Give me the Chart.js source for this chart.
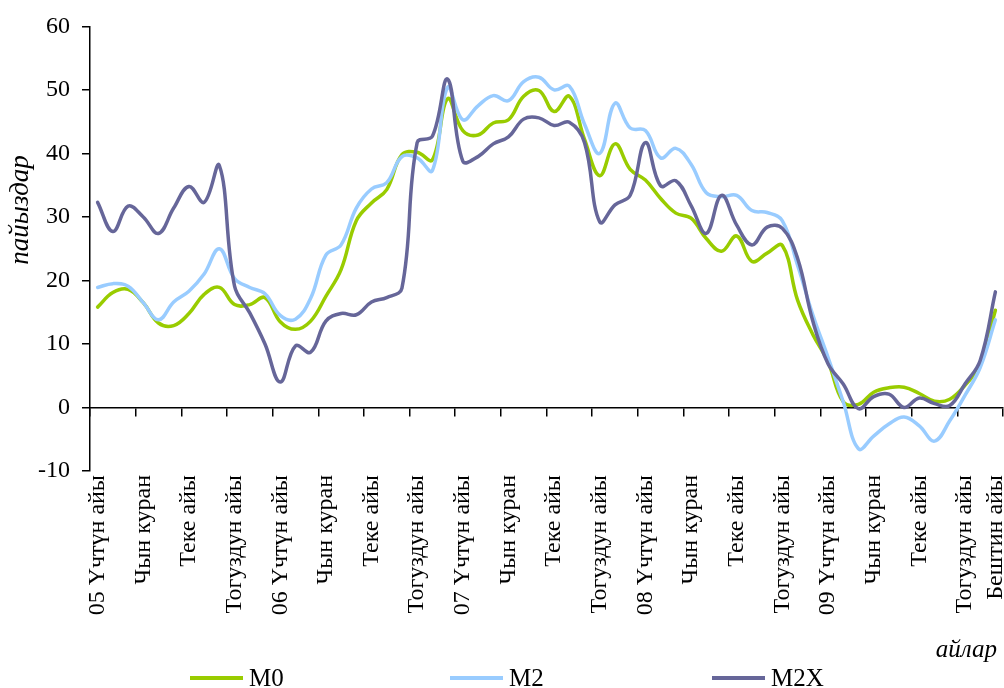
<!DOCTYPE html>
<html>
<head>
<meta charset="utf-8">
<script src="https://cdn.jsdelivr.net/npm/chart.js@4/dist/chart.umd.min.js"></script>
<style>
html,body{margin:0;padding:0;background:#fff;}
#wrap{position:relative;width:1004px;height:688px;overflow:hidden;}
#c{position:absolute;left:0;top:0;}
.leg{position:absolute;top:666px;height:24px;line-height:24px;font-family:"Liberation Serif",serif;font-size:25px;color:#000;white-space:nowrap;}
.leg i{display:inline-block;width:53px;height:4px;vertical-align:middle;margin-right:6px;position:relative;top:-2px;}
</style>
</head>
<body>
<div id="wrap">
<canvas id="c" width="1004" height="688"></canvas>
<div id="legend"></div>
</div>
<script>
// ---- categories (months, Jan 2005 .. Dec 2009) ----
const categories = [
 '05 Үчтүн айы','Бирдин айы','Жалган куран','Чын куран','Бугу','Кулжа','Теке айы','Баш оона','Аяк оона','Тогуздун айы','Жетинин айы','Бештин айы',
 '06 Үчтүн айы','Бирдин айы','Жалган куран','Чын куран','Бугу','Кулжа','Теке айы','Баш оона','Аяк оона','Тогуздун айы','Жетинин айы','Бештин айы',
 '07 Үчтүн айы','Бирдин айы','Жалган куран','Чын куран','Бугу','Кулжа','Теке айы','Баш оона','Аяк оона','Тогуздун айы','Жетинин айы','Бештин айы',
 '08 Үчтүн айы','Бирдин айы','Жалган куран','Чын куран','Бугу','Кулжа','Теке айы','Баш оона','Аяк оона','Тогуздун айы','Жетинин айы','Бештин айы',
 '09 Үчтүн айы','Бирдин айы','Жалган куран','Чын куран','Бугу','Кулжа','Теке айы','Баш оона','Аяк оона','Тогуздун айы','Жетинин айы','Бештин айы'
];
// categories whose names are printed on the axis
const labelledMonths = [0,3,6,9,12,15,18,21,24,27,30,33,36,39,42,45,48,51,54,57,59];

// ---- series ----
const seriesNames = ['M0','M2','M2X'];
const m0 = [
 15.8,18.1,18.6,16.5,13.3,12.9,14.8,17.8,18.9,16.2,16.2,17.3,
 13.5,12.3,13.6,17.5,21.7,29.4,32.2,34.3,39.8,40.2,39.0,48.6,
 43.6,42.9,44.8,45.3,49.0,49.9,46.6,49.0,42.2,36.5,41.5,37.5,
 35.8,32.9,30.6,29.8,26.6,24.6,27.0,23.0,24.3,25.5,16.9,11.5,
 7.2,0.9,0.5,2.4,3.1,3.2,2.2,1.0,1.3,3.5,6.8,15.3
];
const m2 = [
 18.9,19.5,19.1,16.5,13.8,16.6,18.3,21.0,25.0,20.3,18.9,17.9,
 14.5,13.9,17.2,24.0,25.6,31.4,34.4,35.4,39.5,39.3,37.3,50.4,
 45.3,47.5,49.1,48.3,51.3,52.0,50.0,50.6,44.6,40.0,47.9,44.0,
 43.6,39.3,40.8,38.3,33.8,33.2,33.4,31.0,30.7,29.4,22.4,14.6,
 7.9,0.9,-6.5,-4.5,-2.6,-1.5,-2.9,-5.3,-2.1,1.9,6.3,13.8
];
const m2x = [
 32.3,27.7,31.7,30.0,27.4,31.4,34.8,32.3,38.1,19.1,14.9,10.0,
 4.0,9.7,8.7,13.6,14.8,14.6,16.6,17.3,18.8,41.7,42.7,51.7,
 38.8,39.5,41.5,42.6,45.4,45.6,44.4,44.9,41.7,29.2,31.9,33.4,
 41.7,34.9,35.7,31.8,27.4,33.4,28.7,25.6,28.4,28.2,23.5,13.6,
 6.9,3.7,-0.2,1.7,2.1,0.0,1.5,0.6,0.3,3.7,7.4,18.2
];
const seriesColors = ['#99CC00','#99CCFF','#666699'];

// ---- axes ----
const yTickValues = [-10,0,10,20,30,40,50,60];
const yTitle = 'пайыздар';
const xTitle = 'айлар';

const FONT = '"Liberation Serif", "Times New Roman", serif';

const axisTitlePlugin = {
  id: 'axisTitlePlugin',
  afterDraw(chart) {
    const ctx = chart.ctx;
    ctx.save();
    ctx.fillStyle = '#000';
    ctx.font = 'italic 27px ' + FONT;
    ctx.textAlign = 'center';
    ctx.textBaseline = 'middle';
    ctx.translate(21, 210);
    ctx.rotate(-Math.PI / 2);
    ctx.fillText(yTitle, 0, 0);
    ctx.restore();
    ctx.save();
    ctx.fillStyle = '#000';
    ctx.font = 'italic 25px ' + FONT;
    ctx.textAlign = 'right';
    ctx.textBaseline = 'middle';
    ctx.fillText(xTitle, 997, 650);
    ctx.restore();
  }
};

const values = [m0, m2, m2x];
const chart = new Chart(document.getElementById('c'), {
  type: 'line',
  data: {
    labels: categories,
    datasets: seriesNames.map((name, i) => ({
      label: name,
      data: values[i],
      borderColor: seriesColors[i],
      backgroundColor: seriesColors[i],
      borderWidth: 3.5,
      pointRadius: 0,
      pointHoverRadius: 0,
      tension: 0.4,
      fill: false,
      borderCapStyle: 'round',
      borderJoinStyle: 'round',
      order: 2 - i,
      xAxisID: 'x',
      yAxisID: 'y'
    }))
  },
  options: {
    responsive: false,
    devicePixelRatio: 1,
    animation: false,
    layout: { padding: { top: 23, right: 1, bottom: 22, left: 0 } },
    plugins: {
      legend: { display: false },
      tooltip: { enabled: false }
    },
    scales: {
      x: {
        type: 'category',
        position: 'bottom',
        offset: true,
        grid: { display: false, drawTicks: false },
        border: { display: false },
        ticks: {
          autoSkip: false,
          minRotation: 90,
          maxRotation: 90,
          padding: 4,
          color: '#000',
          font: { family: FONT, size: 24 },
          callback: (v, i) => labelledMonths.includes(i) ? categories[i] : ''
        },
        afterFit: s => { s.height = 195; s.paddingLeft = 0; s.paddingRight = 0; }
      },
      x0: {
        type: 'category',
        position: { y: 0 },
        offset: true,
        ticks: { display: false },
        grid: {
          offset: true,
          drawOnChartArea: false,
          tickLength: 8,
          lineWidth: 1.5,
          color: c => (c.type !== 'tick' || c.index % 3 === 0) ? '#000' : 'rgba(0,0,0,0)',
          tickColor: c => (c.type !== 'tick' || c.index % 3 === 0) ? '#000' : 'rgba(0,0,0,0)'
        },
        border: { display: true, color: '#000', width: 1.5 }
      },
      y: {
        type: 'linear',
        position: 'left',
        min: -10,
        max: 60,
        afterBuildTicks: s => { s.ticks = yTickValues.map(v => ({ value: v })); },
        afterFit: s => { s.width = 90; },
        ticks: { color: '#000', padding: 12, font: { family: FONT, size: 24 } },
        grid: { drawOnChartArea: false, tickLength: 8, color: '#000', lineWidth: 1.5 },
        border: { display: true, color: '#000', width: 1.5 }
      }
    }
  },
  plugins: [axisTitlePlugin]
});

// ---- legend (HTML, real text) ----
const legendLeft = [190, 450, 712];
const legend = document.getElementById('legend');
chart.data.datasets.forEach((ds, i) => {
  const item = document.createElement('div');
  item.className = 'leg';
  item.style.left = legendLeft[i] + 'px';
  const sw = document.createElement('i');
  sw.style.background = ds.borderColor;
  item.appendChild(sw);
  item.appendChild(document.createTextNode(ds.label));
  legend.appendChild(item);
});
</script>
</body>
</html>
